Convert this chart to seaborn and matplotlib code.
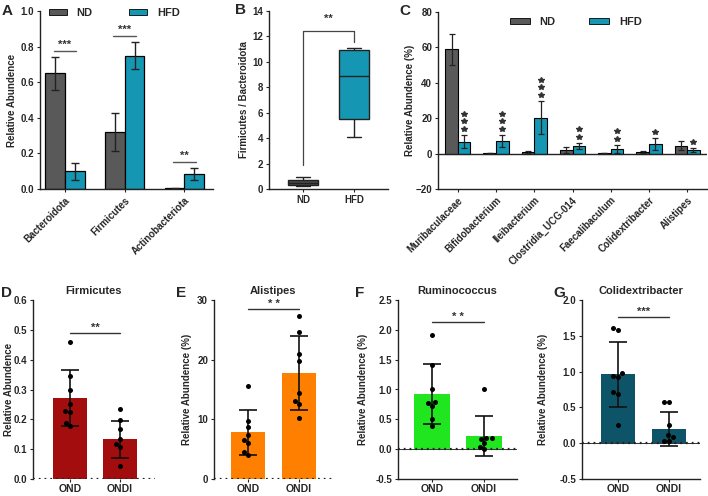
import numpy as np
import pandas as pd
import matplotlib.pyplot as plt
import matplotlib.patches as mpatches
import seaborn as sns

# -------------------------
# values
# -------------------------
# A: phylum level, mean +/- sd
phyla = ["Bacteroidota", "Firmicutes", "Actinobacteriota"]
phyla_nd = [0.65, 0.32, 0.005]
phyla_nd_sd = [0.093, 0.107, 0.003]
phyla_hfd = [0.10, 0.75, 0.083]
phyla_hfd_sd = [0.047, 0.077, 0.035]
phyla_sig = ["***", "***", "**"]

# B: Firmicutes / Bacteroidota ratio (min, q1, median, q3, max)
ratio_nd = [0.26, 0.31, 0.50, 0.71, 0.92]
ratio_hfd = [4.1, 5.5, 8.9, 10.9, 11.1]

# C: genus level (%)
genera = ["Muribaculaceae", "Bifidobacterium", "Ileibacterium", "Clostridia_UCG-014",
          "Faecalibaculum", "Colidextribacter", "Alistipes"]
genera_nd = [59.0, 0.3, 0.8, 2.0, 0.2, 0.8, 4.5]
genera_nd_sd = [8.7, 0.2, 0.6, 1.5, 0.1, 0.6, 2.6]
genera_hfd = [6.7, 7.1, 20.3, 4.3, 2.6, 5.2, 1.9]
genera_hfd_sd = [3.8, 3.4, 9.4, 1.9, 2.2, 3.4, 1.1]
genera_stars = [3, 3, 3, 2, 2, 1, 1]

# D-G: OND vs ONDI, individual animals
groups = ["OND", "ONDI"]

firm_ond = [0.458, 0.346, 0.298, 0.253, 0.228, 0.226, 0.188, 0.178]
firm_ondi = [0.234, 0.197, 0.167, 0.135, 0.116, 0.107, 0.045]
firm_mean = [0.272, 0.133]
firm_sd = [0.094, 0.063]

alis_ond = [15.6, 9.7, 8.7, 7.4, 6.5, 6.0, 4.6, 4.0]
alis_ondi = [27.3, 24.6, 21.0, 19.8, 14.4, 13.1, 12.5, 10.3]
alis_mean = [7.8, 17.8]
alis_sd = [3.7, 6.2]

rumi_ond = [1.91, 1.41, 1.01, 0.79, 0.77, 0.72, 0.51, 0.39]
rumi_ondi = [1.0, 0.19, 0.19, 0.17, 0.10, 0.04, 0.0]
rumi_mean = [0.93, 0.22]
rumi_sd = [0.50, 0.33]

coli_ond = [1.61, 1.58, 0.98, 0.94, 0.93, 0.72, 0.69, 0.26]
coli_ondi = [0.57, 0.57, 0.26, 0.11, 0.08, 0.03, 0.03]
coli_mean = [0.96, 0.20]
coli_sd = [0.45, 0.235]

# -------------------------
# style
# -------------------------
sns.set_style("ticks")
plt.rcParams["font.family"] = ["Liberation Sans", "DejaVu Sans"]
plt.rcParams["font.weight"] = "bold"
plt.rcParams["axes.labelweight"] = "bold"
plt.rcParams["axes.titleweight"] = "bold"
plt.rcParams["axes.linewidth"] = 1.0
plt.rcParams["axes.edgecolor"] = "#222222"
plt.rcParams["xtick.major.size"] = 2.5
plt.rcParams["ytick.major.size"] = 2.5
plt.rcParams["xtick.major.pad"] = 1.8
plt.rcParams["ytick.major.pad"] = 1.8
plt.rcParams["xtick.labelsize"] = 7
plt.rcParams["ytick.labelsize"] = 7
plt.rcParams["axes.labelsize"] = 7

ND_COL = "#595959"
HFD_COL = "#1597b3"

W, H = 708, 496
fig = plt.figure(figsize=(W / 100, H / 100), dpi=100)


def px_axes(l, t, r, b):
    return fig.add_axes([l / W, 1 - b / H, (r - l) / W, (b - t) / H])


def ylabel_at(ax, box, text, x_px):
    # put the y label so that its right edge sits at x_px (figure pixels)
    ax.set_ylabel(text)
    l, t, r, b = box
    ax.yaxis.set_label_coords((x_px - l) / (r - l), 0.5)


def letter(x, y, s):
    fig.text(x / W, 1 - y / H, s, fontsize=11, fontweight="bold", ha="center", va="center")


# -------------------------
# A - phyla
# -------------------------
boxA = (40, 11, 213, 189)
axA = px_axes(*boxA)
dfA = pd.DataFrame({"taxon": phyla * 2,
                    "group": ["ND"] * 3 + ["HFD"] * 3,
                    "value": phyla_nd + phyla_hfd})
sns.barplot(data=dfA, x="taxon", y="value", hue="group", hue_order=["ND", "HFD"],
            palette={"ND": ND_COL, "HFD": HFD_COL}, order=phyla, width=0.66, saturation=1,
            edgecolor="black", linewidth=0.9, errorbar=None, legend=False, ax=axA)
barsA = sorted(axA.patches, key=lambda p: p.get_x())
meansA = [v for pair in zip(phyla_nd, phyla_hfd) for v in pair]
sdsA = [v for pair in zip(phyla_nd_sd, phyla_hfd_sd) for v in pair]
xsA = [p.get_x() + p.get_width() / 2 for p in barsA]
axA.errorbar(xsA, meansA, yerr=sdsA, fmt="none", ecolor="#222222", elinewidth=1.0,
             capsize=3.2, capthick=1.0, zorder=3)
for i, s in enumerate(phyla_sig):
    top = max(phyla_nd[i] + phyla_nd_sd[i], phyla_hfd[i] + phyla_hfd_sd[i]) + 0.035
    axA.plot([i - 0.19, i + 0.19], [top, top], color="#555555", lw=1.0)
    axA.text(i, top + 0.005, s, ha="center", va="bottom", fontsize=8, color="#333333")
axA.set_ylim(0, 1.0)
axA.set_xlim(-0.42, 2.48)
axA.set_yticks(np.arange(0, 1.01, 0.2))
axA.set_yticklabels([f"{v:.1f}" for v in np.arange(0, 1.01, 0.2)])
axA.set_xlabel("")
ylabel_at(axA, boxA, "Relative Abundence", 17)
axA.set_xticks(range(len(phyla)))
axA.set_xticklabels(phyla, rotation=45, ha="right", rotation_mode="anchor", fontsize=7)
sns.despine(ax=axA)
handles = [mpatches.Patch(facecolor=ND_COL, edgecolor="black", lw=0.6),
           mpatches.Patch(facecolor=HFD_COL, edgecolor="black", lw=0.6)]
axA.legend(handles, ["ND", "HFD"], ncol=2, loc="upper left", bbox_to_anchor=(0.025, 1.04),
           frameon=False, fontsize=8, handlelength=1.6, handleheight=0.45,
           handletextpad=0.9, columnspacing=3.3, borderaxespad=0)
letter(7, 11, "A")

# -------------------------
# B - ratio box plot
# -------------------------
boxB = (269, 11, 388, 189)
axB = px_axes(*boxB)
dfB = pd.DataFrame({"group": ["ND"] * len(ratio_nd) + ["HFD"] * len(ratio_hfd),
                    "ratio": ratio_nd + ratio_hfd})
sns.boxplot(data=dfB, x="group", y="ratio", hue="group", order=["ND", "HFD"],
            palette={"ND": "#4a4a4a", "HFD": HFD_COL}, width=0.58, whis=(0, 100),
            saturation=1, linecolor="#222222", linewidth=1.0, fliersize=0,
            legend=False, ax=axB)
axB.plot([0, 0, 1, 1], [1.9, 12.4, 12.4, 11.6], color="#444444", lw=0.9)
axB.text(0.5, 13.0, "**", ha="center", va="bottom", fontsize=8, color="#333333")
axB.set_ylim(0, 14)
axB.set_xlim(-0.67, 1.67)
axB.set_yticks(range(0, 15, 2))
axB.set_xlabel("")
ylabel_at(axB, boxB, "Firmicutes / Bacteroidota", 249)
sns.despine(ax=axB)
letter(241, 10, "B")

# -------------------------
# C - genera
# -------------------------
boxC = (438, 12, 707, 189)
axC = px_axes(*boxC)
dfC = pd.DataFrame({"taxon": genera * 2,
                    "group": ["ND"] * 7 + ["HFD"] * 7,
                    "value": genera_nd + genera_hfd})
sns.barplot(data=dfC, x="taxon", y="value", hue="group", hue_order=["ND", "HFD"],
            palette={"ND": ND_COL, "HFD": HFD_COL}, order=genera, width=0.66, saturation=1,
            edgecolor="black", linewidth=0.8, errorbar=None, legend=False, ax=axC)
barsC = sorted(axC.patches, key=lambda p: p.get_x())
meansC = [v for pair in zip(genera_nd, genera_hfd) for v in pair]
sdsC = [v for pair in zip(genera_nd_sd, genera_hfd_sd) for v in pair]
xsC = [p.get_x() + p.get_width() / 2 for p in barsC]
axC.errorbar(xsC, meansC, yerr=sdsC, fmt="none", ecolor="#222222", elinewidth=0.9,
             capsize=2.3, capthick=0.9, zorder=3)
axC.axhline(0, color="#222222", lw=1.0, zorder=2)
for i, n in enumerate(genera_stars):
    xs = xsC[2 * i + 1]
    base = genera_hfd[i] + genera_hfd_sd[i] + 3.4
    axC.plot([xs] * n, [base + 4.3 * k for k in range(n)], ls="none", marker="*",
             ms=4.2, color="#333333")
axC.set_ylim(-20, 80)
axC.set_xlim(-0.52, 6.52)
axC.set_yticks(range(-20, 81, 20))
axC.set_xlabel("")
ylabel_at(axC, boxC, "Relative Abundence (%)", 415)
axC.set_xticks(range(len(genera)))
axC.set_xticklabels(genera, rotation=45, ha="right", rotation_mode="anchor", fontsize=7)
sns.despine(ax=axC)
axC.legend(handles, ["ND", "HFD"], ncol=2, loc="upper left", bbox_to_anchor=(0.25, 0.995),
           frameon=False, fontsize=8, handlelength=1.8, handleheight=0.45,
           handletextpad=0.9, columnspacing=3.0, borderaxespad=0)
letter(405, 11, "C")


# -------------------------
# D-G - OND vs ONDI
# -------------------------
def ond_panel(box, ond, ondi, means, sds, colour, title, ylim, yticks, fmt, ylabel,
              label_x, xlim, sig, sig_y, tag, tag_xy):
    ax = px_axes(*box)
    df = pd.DataFrame({"group": ["OND"] * len(ond) + ["ONDI"] * len(ondi),
                       "value": ond + ondi})
    sns.barplot(x=groups, y=means, order=groups, color=colour, width=0.68, saturation=1,
                errorbar=None, linewidth=0, ax=ax)
    ax.errorbar([0, 1], means, yerr=sds, fmt="none", ecolor="#111111", elinewidth=1.2,
                capsize=6.5, capthick=1.2, zorder=3)
    sns.swarmplot(data=df, x="group", y="value", order=groups, color="black", size=3.6,
                  ax=ax, zorder=4)
    ax.axhline(0, color="#333333", lw=0.7, zorder=2)
    ax.axhline(0, color="#222222", lw=1.6, ls=(0, (0.8, 1.8)), zorder=2)
    ax.plot([0, 1], [sig_y, sig_y], color="#333333", lw=1.0)
    ax.text(0.5, sig_y, sig, ha="center", va="bottom", fontsize=8, color="#333333")
    ax.set_ylim(*ylim)
    ax.set_xlim(*xlim)
    ax.set_yticks(yticks)
    ax.set_yticklabels([fmt.format(v) for v in yticks])
    ax.tick_params(axis="x", length=2, pad=1.5, labelsize=7.5)
    ax.set_xlabel("")
    ylabel_at(ax, box, ylabel, label_x)
    ax.set_title(title, fontsize=8, pad=4)
    sns.despine(ax=ax)
    if ylim[0] == 0:
        ax.spines["bottom"].set_visible(False)
    letter(*tag_xy, tag)
    return ax


ond_panel((33, 300, 155, 479), firm_ond, firm_ondi, firm_mean, firm_sd, "#a30d0d",
          "Firmicutes", (0, 0.6), np.arange(0, 0.61, 0.1), "{:.1f}", "Relative Abundence", 14,
          (-0.74, 1.7), "**", 0.489, "D", (6, 293))
ond_panel((214, 300, 332, 479), alis_ond, alis_ondi, alis_mean, alis_sd, "#ff8000",
          "Alistipes", (0, 30), [0, 10, 20, 30], "{:.0f}", "Relative Abundence (%)", 192,
          (-0.67, 1.65), "* *", 28.5, "E", (181, 293))
ond_panel((398, 300, 517, 479), rumi_ond, rumi_ondi, rumi_mean, rumi_sd, "#1fe61f",
          "Ruminococcus", (-0.5, 2.5), np.arange(-0.5, 2.51, 0.5), "{:.1f}",
          "Relative Abundence (%)", 368, (-0.65, 1.63), "* *", 2.13, "F", (360, 293))
ond_panel((582, 300, 700, 479), coli_ond, coli_ondi, coli_mean, coli_sd, "#0d5468",
          "Colidextribacter", (-0.5, 2.0), np.arange(-0.5, 2.01, 0.5), "{:.1f}",
          "Relative Abundence (%)", 548, (-0.71, 1.61), "***", 1.76, "G", (559, 293))

fig.savefig("out.png", dpi=100)
